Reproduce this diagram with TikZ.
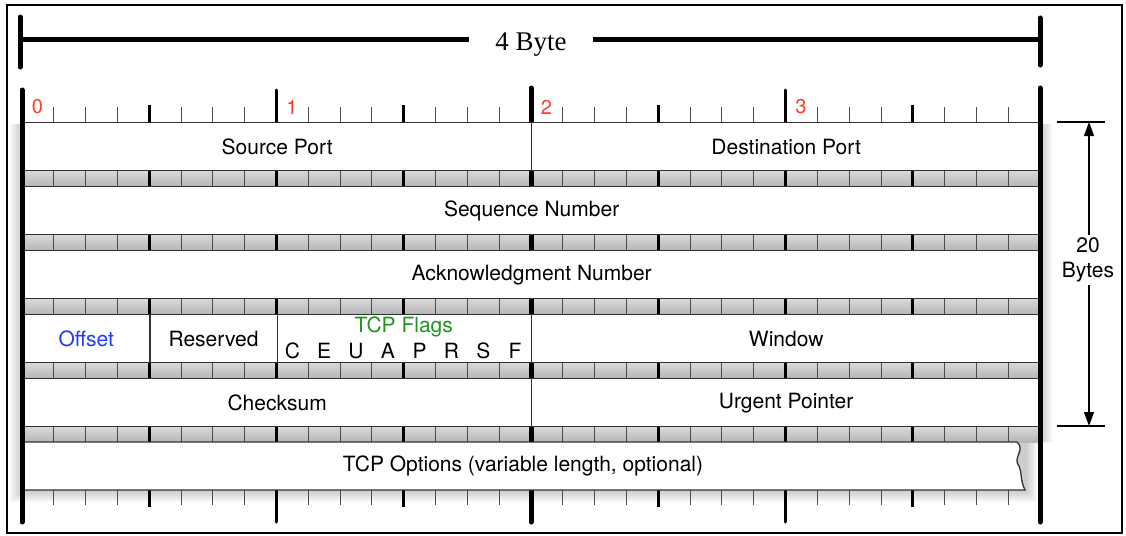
\documentclass[tikz,border=0pt]{standalone}
\usepackage{fontspec}
\setmainfont{Liberation Serif}
\newfontfamily\hv{TeX Gyre Heros}
\usetikzlibrary{arrows.meta}
\definecolor{numred}{RGB}{255,59,38}
\definecolor{offblue}{RGB}{35,60,255}
\definecolor{flaggreen}{RGB}{30,150,30}
\definecolor{edgec}{RGB}{50,50,50}
\def\bw{31.8125}
\begin{document}
\begin{tikzpicture}[x=1pt,y=-1pt,
  field/.style={draw=edgec, line width=1.3pt, fill=white, minimum height=48pt, inner sep=0pt, anchor=north west, font=\hv\fontsize{21}{24}\selectfont},
  lbl/.style={font=\hv\fontsize{21}{25}\selectfont, inner sep=0pt},
  bitnum/.style={font=\hv\fontsize{20}{22}\selectfont, text=numred, inner sep=0pt},
  bar/.style={line width=5pt, line cap=round},
  thintick/.style={draw=black!70, line width=0.9pt},
  nibtick/.style={line width=2.6pt},
  bytetick/.style={line width=3pt, line cap=round},
  midtick/.style={line width=5pt, line cap=round},
  dimline/.style={line width=1.3pt},
]
\useasboundingbox (0,0) rectangle (1126,535);
% frame
\draw[line width=2pt] (7,5) rectangle (1122,533);
% soft shadow
\foreach \k in {2,4,...,12}
  \fill[black,opacity=0.035] ({22-\k},124) -- ({1040+\k},124) -- ({1040+\k},442) -- ({1025+\k},442) -- ({1025+\k},{490+\k}) -- ({22-\k},{490+\k}) -- cycle;
% top dimension
\coordinate (tl) at (20,40);
\coordinate (tr) at (1040,40);
\node[fill=white, font=\fontsize{27}{30}\selectfont, inner xsep=26pt, inner ysep=2pt] (bytes4) at (531,45) {4 Byte};
\draw[line width=5pt] (tl) -- (tl -| bytes4.west);
\draw[line width=5pt] (tr -| bytes4.east) -- (tr);
\draw[bar] (20,17) -- (20,67);
\draw[bar] (1040,18) -- (1040,65);
% top ruler ticks
\foreach \i in {1,...,31}{
  \pgfmathsetmacro\xx{22+\i*\bw}
  \pgfmathtruncatemacro\mf{mod(\i,4)}
  \pgfmathtruncatemacro\me{mod(\i,8)}
  \ifnum\i=16
    \draw[midtick] (\xx,88) -- (\xx,124);
  \else\ifnum\me=0
    \draw[bytetick] (\xx,90) -- (\xx,124);
  \else\ifnum\mf=0
    \draw[nibtick] (\xx,105) -- (\xx,124);
  \else
    \draw[thintick] (\xx,107) -- (\xx,124);
  \fi\fi\fi
}
% bit numbers
\node[bitnum] (n0) at ({22+15.5},107) {0};
\node[bitnum] (n1) at ({22+8*\bw+15.5},107) {1};
\node[bitnum] (n2) at ({22+16*\bw+15.5},107) {2};
\node[bitnum] (n3) at ({22+24*\bw+15.5},107) {3};
% gray strips
\foreach \r in {0,...,4}{
  \pgfmathsetmacro\yt{170+64*\r}
  \shade[top color=gray!28, bottom color=gray!58] (22,\yt) rectangle (1040,\yt+16);
  \foreach \i in {1,...,31}{
    \pgfmathsetmacro\xx{22+\i*\bw}
    \pgfmathtruncatemacro\mf{mod(\i,4)}
    \ifnum\i=16
      \draw[line width=5pt] (\xx,\yt) -- (\xx,\yt+16);
    \else\ifnum\mf=0
      \draw[line width=2.8pt] (\xx,\yt) -- (\xx,\yt+16);
    \else
      \draw[draw=black!70, line width=0.9pt] (\xx,\yt) -- (\xx,\yt+16);
    \fi\fi
  }
}
% bottom ruler ticks
\foreach \i in {1,...,31}{
  \pgfmathsetmacro\xx{22+\i*\bw}
  \pgfmathtruncatemacro\mf{mod(\i,4)}
  \pgfmathtruncatemacro\me{mod(\i,8)}
  \ifnum\i=16
    \draw[midtick] (\xx,488) -- (\xx,522);
  \else\ifnum\me=0
    \draw[bytetick] (\xx,488) -- (\xx,522);
  \else\ifnum\mf=0
    \draw[nibtick] (\xx,488) -- (\xx,507);
  \else
    \draw[thintick] (\xx,488) -- (\xx,505);
  \fi\fi\fi
}
% fields
\node[field, minimum width={16*\bw*1pt}] (src) at (22,122) {Source Port};
\node[field, minimum width={16*\bw*1pt}] (dst) at ({22+16*\bw},122) {Destination Port};
\node[field, minimum width={32*\bw*1pt}] (seq) at (22,186) {Sequence Number};
\node[field, minimum width={32*\bw*1pt}] (ack) at (22,250) {Acknowledgment Number};
\node[field, minimum width={4*\bw*1pt}, text=offblue] (off) at (22,314) {Offset};
\node[field, minimum width={4*\bw*1pt}] (res) at ({22+4*\bw},314) {Reserved};
\node[field, minimum width={8*\bw*1pt}] (flags) at ({22+8*\bw},314) {};
\node[field, minimum width={16*\bw*1pt}] (win) at ({22+16*\bw},314) {Window};
\node[lbl, text=flaggreen] (flagt) at ({22+12*\bw},327) {TCP Flags};
\foreach \l [count=\k from 0] in {C,E,U,A,P,R,S,F}
  \node[lbl] (f\l) at ({22+(8.5+\k)*\bw},351) {\l};
\node[field, minimum width={16*\bw*1pt}] (chk) at (22,378) {Checksum};
\node[field, minimum width={16*\bw*1pt}] (urg) at ({22+16*\bw},378) {Urgent Pointer};
% options (torn right edge)
\draw[draw=edgec, line width=1.3pt, fill=white] (22,442) -- (1017,442)
  .. controls (1026,450) and (1012,458) .. (1019,466)
  .. controls (1022,472) and (1020,480) .. (1025,490) -- (22,490) -- cycle;
\node[lbl] (opt) at (523,466) {TCP Options (variable length, optional)};
% main bars
\draw[bar] (22,90) -- (22,522);
\draw[bar] (1040,88) -- (1040,522);
% right dimension
\coordinate (rt) at (1089,122);
\coordinate (rb) at (1089,426);
\draw[dimline] (1057,122) -- (1105,122);
\draw[dimline] (1057,426) -- (1105,426);
\node[lbl, align=center, inner ysep=3pt] (twenty) at (1088,260) {20\\Bytes};
\draw[dimline, -{Triangle[length=14pt,width=10pt]}] (twenty.north -| rt) -- (rt);
\draw[dimline, -{Triangle[length=14pt,width=10pt]}] (twenty.south -| rb) -- (rb);
\end{tikzpicture}
\end{document}
